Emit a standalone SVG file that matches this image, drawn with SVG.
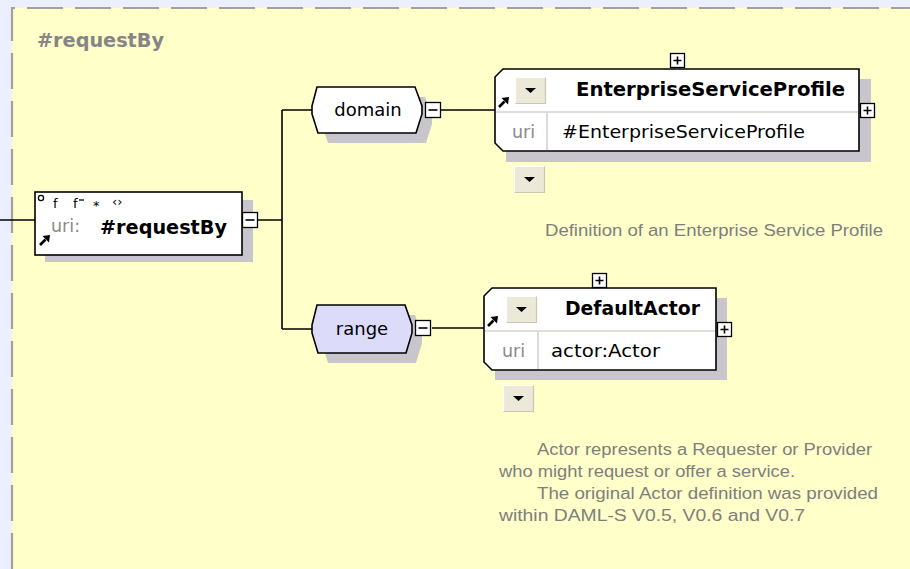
<svg xmlns="http://www.w3.org/2000/svg" xmlns:xlink="http://www.w3.org/1999/xlink" width="910" height="569" viewBox="0 0 910 569">
  <style>
    .bold { font-family: "DejaVu Sans", "Liberation Sans", sans-serif; font-weight: bold; font-size: 19.5px; fill: #000; }
    .norm { font-family: "DejaVu Sans", "Liberation Sans", sans-serif; font-size: 18px; fill: #000; }
    .muted { font-family: "DejaVu Sans", "Liberation Sans", sans-serif; font-size: 17.5px; fill: #8a8a8a; }
    .doc { font-family: "Liberation Sans", "DejaVu Sans", sans-serif; font-size: 16px; fill: #7e7e7e; }
    .title { font-family: "DejaVu Sans", "Liberation Sans", sans-serif; font-weight: bold; font-size: 19.5px; fill: #858585; }
    .icon { font-family: "DejaVu Sans", sans-serif; font-size: 13px; fill: #000; }
    .box { fill: #fff; stroke: #000; stroke-width: 1.6; }
    .shadow { fill: #c8c6cc; }
    .div { stroke: #d4d2cc; stroke-width: 1.6; }
    .wire { fill: none; stroke: #000; stroke-width: 1.6; }
  </style>
  <defs>
    <!-- expand/collapse toggles -->
    <g id="plus">
      <rect x="0.5" y="0.5" width="14" height="14" fill="#fff" stroke="#000" stroke-width="1.3"/>
      <path d="M3.5,7.5 H11.5 M7.5,3.5 V11.5" stroke="#000" stroke-width="1.6"/>
    </g>
    <g id="minus">
      <rect x="0.5" y="0.5" width="15" height="15" fill="#fff" stroke="#000" stroke-width="1.3"/>
      <path d="M3.5,8 H12.5" stroke="#000" stroke-width="1.6"/>
    </g>
    <!-- drop-down button -->
    <g id="drop">
      <rect x="0" y="0" width="31" height="27" fill="#ece9d8"/>
      <path d="M0.5,26.5 V0.5 H30.5" fill="none" stroke="#fff" stroke-width="1.2"/>
      <path d="M0.5,26.5 H30.5 V0.5" fill="none" stroke="#c9c6b8" stroke-width="1.2"/>
      <polygon points="10,11 21,11 15.5,16" fill="#000"/>
    </g>
    <!-- link arrow -->
    <g id="jump">
      <path d="M1,10 L6.5,4.5" stroke="#000" stroke-width="2.6"/>
      <polygon points="3.5,1 11,0 10,7.5" fill="#000"/>
    </g>
  </defs>

  <!-- page -->
  <rect x="0" y="0" width="910" height="569" fill="#eceffd"/>
  <rect x="12" y="8" width="898" height="561" fill="#ffffc9"/>
  <path d="M12,569 V8 H910" fill="none" stroke="#a2a2a2" stroke-width="2.2" stroke-dasharray="36 12"/>
  <text class="title" x="37" y="47" textLength="127" lengthAdjust="spacingAndGlyphs">#requestBy</text>

  <!-- connectors -->
  <g id="connectors">
    <path class="wire" d="M0,220 H35"/>
    <path class="wire" d="M257,220 H282 M282,110 V329 M282,110 H312 M282,329 H312"/>
    <path class="wire" d="M441,110 H495"/>
    <path class="wire" d="M432,328 H484"/>
  </g>

  <!-- property node -->
  <g id="node-requestBy">
    <rect class="shadow" x="45" y="200" width="208" height="62"/>
    <rect class="box" x="35" y="192" width="207" height="63"/>
    <circle cx="41" cy="198" r="2.6" fill="#fff" stroke="#000" stroke-width="1.3"/>
    <text class="icon" x="53" y="208">f</text>
    <text class="icon" x="73" y="208">f</text>
    <path d="M79,200 H84" stroke="#000" stroke-width="1.3"/>
    <text class="icon" x="93" y="210">*</text>
    <text class="icon" x="112" y="206" font-size="12px">‹›</text>
    <text class="muted" x="51" y="232">uri:</text>
    <use xlink:href="#jump" x="39" y="235"/>
    <text class="bold" x="100" y="234" textLength="127" lengthAdjust="spacingAndGlyphs">#requestBy</text>
    <use xlink:href="#minus" x="242" y="212"/>
  </g>

  <!-- domain -->
  <g id="node-domain">
    <polygon class="shadow" points="322,116 327,97 425,97 432,116 432,124 426,143 328,143 322,124"/>
    <polygon class="box" points="312,106 317,87 415,87 422,106 422,114 416,133 318,133 312,114"/>
    <text class="norm" x="368" y="116" text-anchor="middle">domain</text>
    <use xlink:href="#minus" x="425" y="102"/>
  </g>

  <!-- range -->
  <g id="node-range">
    <polygon class="shadow" points="322,335 327,315 415,315 422,335 422,343 416,363 328,363 322,343"/>
    <polygon points="312,325 317,305 405,305 412,325 412,333 406,353 318,353 312,333" fill="#dcdcfa" stroke="#000" stroke-width="1.6"/>
    <text class="norm" x="362" y="335" text-anchor="middle">range</text>
    <use xlink:href="#minus" x="415" y="320"/>
  </g>

  <!-- EnterpriseServiceProfile class -->
  <g id="node-EnterpriseServiceProfile">
    <rect class="shadow" x="506" y="79" width="365" height="83"/>
    <polygon class="box" points="495,77 503,69 859,69 859,151 503,151 495,143"/>
    <path class="div" d="M496,112 H858 M547,113 V150"/>
    <use xlink:href="#drop" x="515" y="77"/>
    <use xlink:href="#jump" x="498" y="97"/>
    <text class="bold" x="576" y="96" textLength="269" lengthAdjust="spacingAndGlyphs">EnterpriseServiceProfile</text>
    <text class="muted" x="512" y="138">uri</text>
    <text class="norm" x="562" y="138" textLength="243" lengthAdjust="spacingAndGlyphs">#EnterpriseServiceProfile</text>
    <use xlink:href="#plus" x="670" y="53"/>
    <use xlink:href="#plus" x="860" y="103"/>
    <use xlink:href="#drop" x="514" y="166"/>
    <text class="doc" x="545" y="236" textLength="338" lengthAdjust="spacingAndGlyphs">Definition of an Enterprise Service Profile</text>
  </g>

  <!-- DefaultActor class -->
  <g id="node-DefaultActor">
    <rect class="shadow" x="495" y="298" width="232" height="82"/>
    <polygon class="box" points="484,296 492,288 716,288 716,370 492,370 484,362"/>
    <path class="div" d="M485,331 H715 M538,332 V369"/>
    <use xlink:href="#drop" x="506" y="296"/>
    <use xlink:href="#jump" x="487" y="316"/>
    <text class="bold" x="565" y="315" textLength="135" lengthAdjust="spacingAndGlyphs">DefaultActor</text>
    <text class="muted" x="502" y="357">uri</text>
    <text class="norm" x="551" y="357" textLength="109" lengthAdjust="spacingAndGlyphs">actor:Actor</text>
    <use xlink:href="#plus" x="592" y="273"/>
    <use xlink:href="#plus" x="717" y="322"/>
    <use xlink:href="#drop" x="503" y="385"/>
    <text class="doc" x="537" y="455" textLength="335" lengthAdjust="spacingAndGlyphs">Actor represents a Requester or Provider</text>
    <text class="doc" x="499" y="477" textLength="296" lengthAdjust="spacingAndGlyphs">who might request or offer a service.</text>
    <text class="doc" x="537" y="499" textLength="341" lengthAdjust="spacingAndGlyphs">The original Actor definition was provided</text>
    <text class="doc" x="499" y="521" textLength="306" lengthAdjust="spacingAndGlyphs">within DAML-S V0.5, V0.6 and V0.7</text>
  </g>
</svg>
